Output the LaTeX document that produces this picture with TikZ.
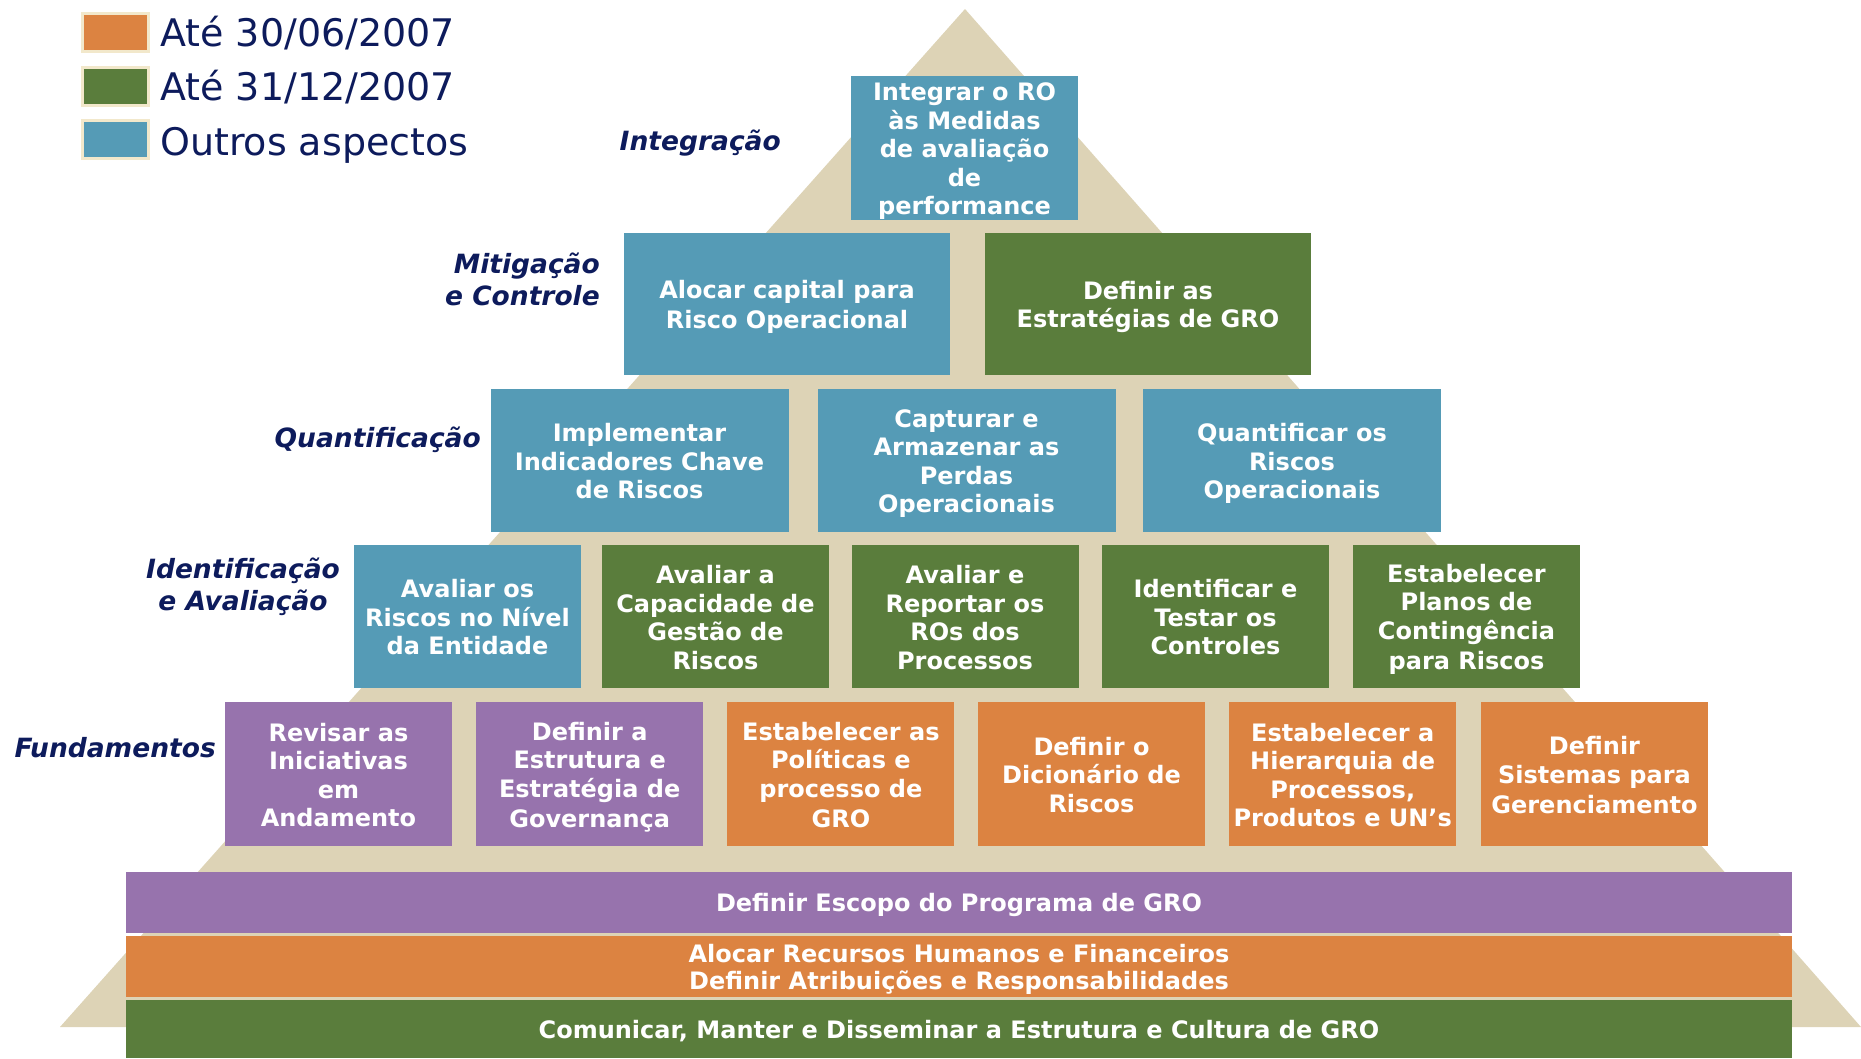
\documentclass[tikz,border=0pt]{standalone}
\usepackage{fontspec}
\setmainfont{DejaVu Sans}
\definecolor{cblue}{HTML}{559BB6}
\definecolor{cgreen}{HTML}{5A7D3C}
\definecolor{corange}{HTML}{DC8341}
\definecolor{cpurple}{HTML}{9773AD}
\definecolor{cbeige}{HTML}{DDD3B6}
\definecolor{cnavy}{HTML}{0D1B5C}
\definecolor{cborder}{HTML}{F2E8CB}
\newcommand{\boxfnt}{\fontsize{24}{28.5}\selectfont\bfseries}
\newcommand{\lblfnt}{\fontsize{26.5}{32}\selectfont\bfseries\itshape}
\newcommand{\legfnt}{\fontsize{38}{40}\selectfont}
\newcommand{\sa}{\rule[-4.5pt]{0pt}{28.5pt}}
\begin{document}
\begin{tikzpicture}[x=1pt,y=-1pt,
  bx/.style={rectangle, inner sep=0pt, text=white, align=center, font=\boxfnt},
  sbox/.style={bx, minimum width=227pt, minimum height=143pt},
  mbox/.style={bx, minimum width=298pt, minimum height=143pt},
  lbox/.style={bx, minimum width=326pt, minimum height=142pt},
  bar/.style={bx, minimum width=1666pt, minimum height=61pt, text depth=0pt},
  blue/.style={fill=cblue}, green/.style={fill=cgreen},
  orange/.style={fill=corange}, purple/.style={fill=cpurple},
  lbl/.style={text=cnavy, font=\lblfnt, inner sep=0pt},
  legsq/.style={draw=cborder, line width=3pt, minimum width=66pt, minimum height=38pt, inner sep=0pt},
  legtxt/.style={text=cnavy, font=\legfnt, inner sep=0pt, anchor=base west}]
\path[use as bounding box] (0,0) rectangle (1861,1058);
% pyramid
\fill[cbeige] (965,9) -- (1861,1027) -- (60,1027) -- cycle;
% legend
\node[legsq, fill=corange] (lg1) at (115,32.5) {};
\node[legsq, fill=cgreen] (lg2) at (115,86) {};
\node[legsq, fill=cblue] (lg3) at (115,139) {};
\node[legtxt] (lt1) at (160,46) {Até 30/06/2007};
\node[legtxt] (lt2) at (160,100.5) {Até 31/12/2007};
\node[legtxt] (lt3) at (160,155) {Outros aspectos};
% level labels
\node[lbl, anchor=base east] (l1) at (781,150) {Integração};
\node[lbl, anchor=east, align=right] (l2) at (600,279) {Mitigação\\e Controle};
\node[lbl, anchor=east] (l3) at (481,440) {Quantificação};
\node[lbl, align=center] (l4) at (243,587) {Identificação\\e Avaliação};
\node[lbl, anchor=east] (l5) at (216,748) {Fundamentos};
% level 1
\node[sbox, blue, minimum height=144pt] (a1) at (964.5,148) {\sa Integrar o RO\\às Medidas\\de avaliação\\de\\performance\sa};
% level 2
\node[lbox, blue] (b1) at (787,304) {\sa Alocar capital para\\Risco Operacional\sa};
\node[lbox, green] (b2) at (1148,304) {\sa Definir as\\Estratégias de GRO\sa};
% level 3
\node[mbox, blue] (c1) at (639.5,460.5) {\sa Implementar\\Indicadores Chave\\de Riscos\sa};
\node[mbox, blue] (c2) at (966.5,460.5) {\sa Capturar e\\Armazenar as\\Perdas\\Operacionais\sa};
\node[mbox, blue] (c3) at (1292,460.5) {\sa Quantificar os\\Riscos\\Operacionais\sa};
% level 4
\node[sbox, blue] (d1) at (467.5,616.5) {\sa Avaliar os\\Riscos no Nível\\da Entidade\sa};
\node[sbox, green] (d2) at (715.5,616.5) {\sa Avaliar a\\Capacidade de\\Gestão de\\Riscos\sa};
\node[sbox, green] (d3) at (965,616.5) {\sa Avaliar e\\Reportar os\\ROs dos\\Processos\sa};
\node[sbox, green] (d4) at (1215.5,616.5) {\sa Identificar e\\Testar os\\Controles\sa};
\node[sbox, green] (d5) at (1466.5,616.5) {\sa Estabelecer\\Planos de\\Contingência\\para Riscos\sa};
% level 5
\node[sbox, purple, minimum height=144pt] (e1) at (338.5,774) {\sa Revisar as\\Iniciativas\\em\\Andamento\sa};
\node[sbox, purple, minimum height=144pt] (e2) at (589.7,774) {\sa Definir a\\Estrutura e\\Estratégia de\\Governança\sa};
\node[sbox, orange, minimum height=144pt] (e3) at (840.9,774) {\sa Estabelecer as\\Políticas e\\processo de\\GRO\sa};
\node[sbox, orange, minimum height=144pt] (e4) at (1091.5,774) {\sa Definir o\\Dicionário de\\Riscos\sa};
\node[sbox, orange, minimum height=144pt] (e5) at (1342.7,774) {\sa Estabelecer a\\Hierarquia de\\Processos,\\Produtos e UN’s\sa};
\node[sbox, orange, minimum height=144pt] (e6) at (1594.5,774) {\sa Definir\\Sistemas para\\Gerenciamento\sa};
% base bars
\node[bar, purple] (f1) at (959,902.5) {Definir Escopo do Programa de GRO};
\node[bar, orange, font=\fontsize{24}{27}\selectfont\bfseries] (f2) at (959,966.5) {Alocar Recursos Humanos e Financeiros\\Definir Atribuições e Responsabilidades};
\node[bar, green, minimum height=58pt] (f3) at (959,1029) {Comunicar, Manter e Disseminar a Estrutura e Cultura de GRO};
\end{tikzpicture}
\end{document}
